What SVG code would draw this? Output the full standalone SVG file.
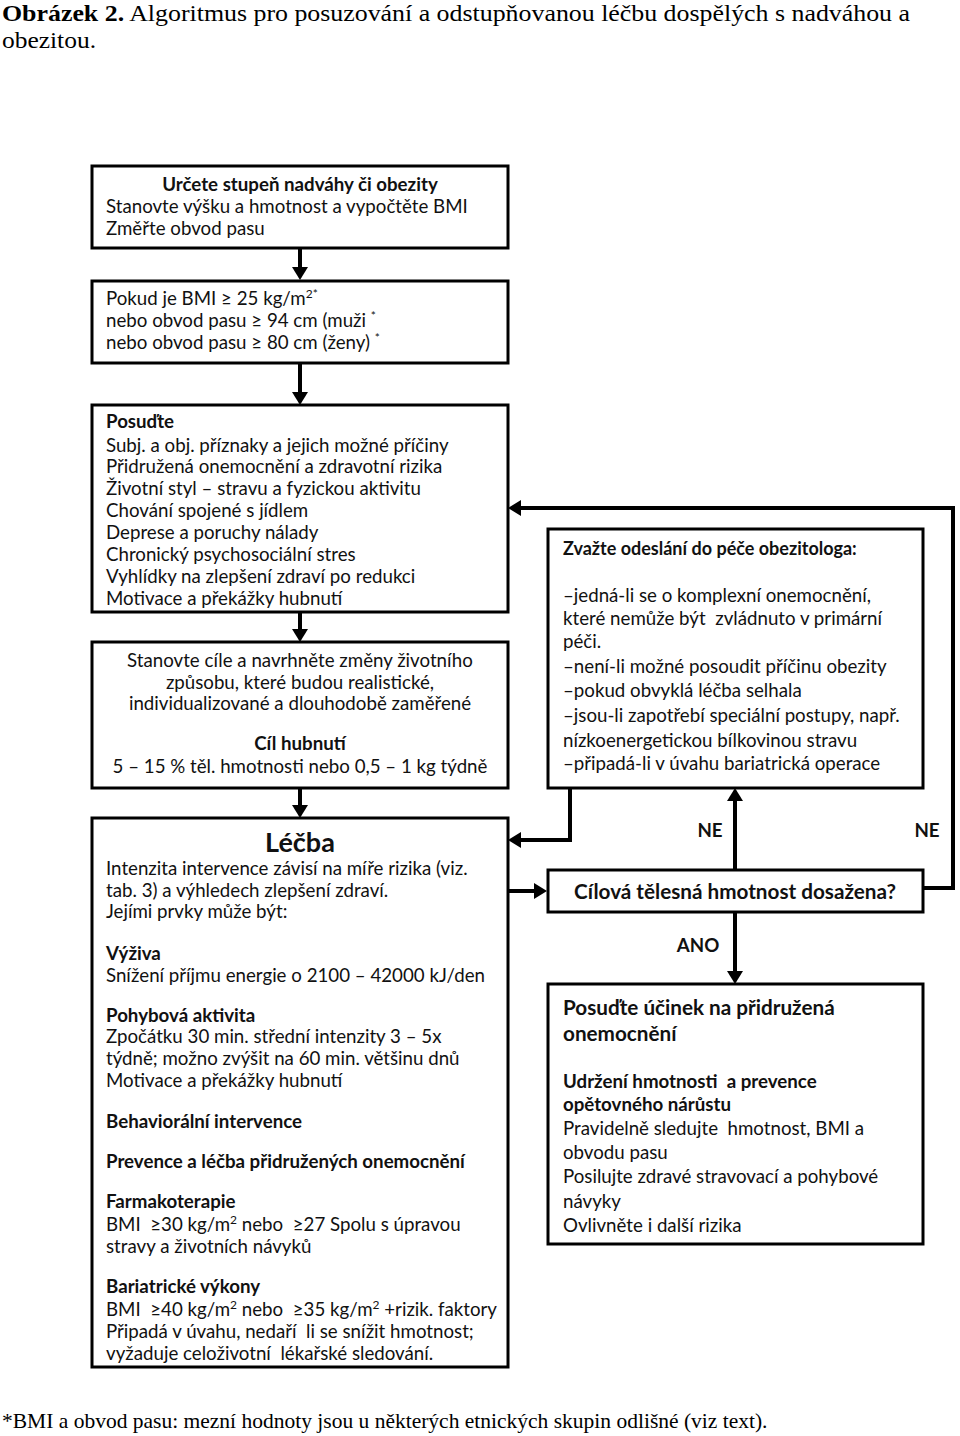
<svg xmlns="http://www.w3.org/2000/svg" width="960" height="1436" viewBox="0 0 960 1436">
<style>
.box{fill:#fff;stroke:#000;stroke-width:3}
.t{font-family:Lato,"Liberation Sans",sans-serif;font-size:18.7px;fill:#111}
.b{font-weight:bold}
.c{text-anchor:middle}
.big{font-size:20.7px}
.lab{font-size:18.7px}
.ser{font-family:"Liberation Serif","Times New Roman",serif;font-size:24px;fill:#000}
.foot{font-size:21.5px}
.con{fill:none;stroke:#000;stroke-width:4}
</style>
<defs>
<marker id="ah" viewBox="0 0 13 16" refX="2" refY="8" markerWidth="13" markerHeight="16" markerUnits="userSpaceOnUse" orient="auto">
<path d="M0,0 L13,8 L0,16 z" fill="#000"/>
</marker>
</defs>
<rect width="960" height="1436" fill="#fff"/>
<g id="title">
<text class="ser" x="2" y="21" textLength="908" lengthAdjust="spacingAndGlyphs"><tspan font-weight="bold">Obrázek 2.</tspan> Algoritmus pro posuzování a odstupňovanou léčbu dospělých s nadváhou a</text>
<text class="ser" x="2" y="48" textLength="94" lengthAdjust="spacingAndGlyphs">obezitou.</text>
</g>
<g id="connectors">
<path class="con" d="M300,249 V269" marker-end="url(#ah)"/>
<path class="con" d="M300,363 V394" marker-end="url(#ah)"/>
<path class="con" d="M300,612 V631" marker-end="url(#ah)"/>
<path class="con" d="M300,788 V807" marker-end="url(#ah)"/>
<path class="con" d="M570,788 V840 H519" marker-end="url(#ah)"/>
<path class="con" d="M508,891 H536" marker-end="url(#ah)"/>
<path class="con" d="M735,870 V799" marker-end="url(#ah)"/>
<path class="con" d="M923,888 H953 V508 H519" marker-end="url(#ah)"/>
<path class="con" d="M735,912 V973" marker-end="url(#ah)"/>
</g>
<g id="n1">
<rect class="box" x="92" y="166" width="416" height="82"/>
<text class="t b c" x="300" y="191">Určete stupeň nadváhy či obezity</text>
<text class="t" x="106" y="213">Stanovte výšku a hmotnost a vypočtěte BMI</text>
<text class="t" x="106" y="235">Změřte obvod pasu</text>
</g>
<g id="n2">
<rect class="box" x="92" y="281" width="416" height="82"/>
<text class="t" x="106" y="305">Pokud je BMI ≥ 25 kg/m<tspan font-size="12" dy="-7">2*</tspan></text>
<text class="t" x="106" y="327">nebo obvod pasu ≥ 94 cm (muži <tspan font-size="12" dy="-7">*</tspan></text>
<text class="t" x="106" y="349">nebo obvod pasu ≥ 80 cm (ženy) <tspan font-size="12" dy="-7">*</tspan></text>
</g>
<g id="n3">
<rect class="box" x="92" y="405" width="416" height="207"/>
<text class="t b" x="106" y="428">Posuďte</text>
<text class="t" x="106" y="452">Subj. a obj. příznaky a jejich možné příčiny</text>
<text class="t" x="106" y="473">Přidružená onemocnění a zdravotní rizika</text>
<text class="t" x="106" y="495">Životní styl – stravu a fyzickou aktivitu</text>
<text class="t" x="106" y="517">Chování spojené s jídlem</text>
<text class="t" x="106" y="539">Deprese a poruchy nálady</text>
<text class="t" x="106" y="561">Chronický psychosociální stres</text>
<text class="t" x="106" y="583">Vyhlídky na zlepšení zdraví po redukci</text>
<text class="t" x="106" y="605">Motivace a překážky hubnutí</text>
</g>
<g id="n4">
<rect class="box" x="92" y="642" width="416" height="146"/>
<text class="t c" x="300" y="667">Stanovte cíle a navrhněte změny životního</text>
<text class="t c" x="300" y="689">způsobu, které budou realistické,</text>
<text class="t c" x="300" y="710">individualizované a dlouhodobě zaměřené</text>
<text class="t b c" x="300" y="750">Cíl hubnutí</text>
<text class="t c" x="300" y="773">5 – 15 % těl. hmotnosti nebo 0,5 – 1 kg týdně</text>
</g>
<g id="n5">
<rect class="box" x="92" y="818" width="416" height="549"/>
<text class="t b c" x="300" y="852" style="font-size:27px">Léčba</text>
<text class="t" x="106" y="875">Intenzita intervence závisí na míře rizika (viz.</text>
<text class="t" x="106" y="897">tab. 3) a výhledech zlepšení zdraví.</text>
<text class="t" x="106" y="918">Jejími prvky může být:</text>
<text class="t b" x="106" y="960">Výživa</text>
<text class="t" x="106" y="982">Snížení příjmu energie o 2100 – 42000 kJ/den</text>
<text class="t b" x="106" y="1022">Pohybová aktivita</text>
<text class="t" x="106" y="1043">Zpočátku 30 min. střední intenzity 3 – 5x</text>
<text class="t" x="106" y="1065">týdně; možno zvýšit na 60 min. většinu dnů</text>
<text class="t" x="106" y="1087">Motivace a překážky hubnutí</text>
<text class="t b" x="106" y="1128">Behaviorální intervence</text>
<text class="t b" x="106" y="1168">Prevence a léčba přidružených onemocnění</text>
<text class="t b" x="106" y="1208">Farmakoterapie</text>
<text class="t" x="106" y="1231" xml:space="preserve">BMI  ≥30 kg/m<tspan font-size="12" dy="-7">2</tspan><tspan dy="7"> nebo  ≥27 Spolu s úpravou</tspan></text>
<text class="t" x="106" y="1253">stravy a životních návyků</text>
<text class="t b" x="106" y="1293">Bariatrické výkony</text>
<text class="t" x="106" y="1316" xml:space="preserve">BMI  ≥40 kg/m<tspan font-size="12" dy="-7">2</tspan><tspan dy="7"> nebo  ≥35 kg/m</tspan><tspan font-size="12" dy="-7">2</tspan><tspan dy="7"> +rizik. faktory</tspan></text>
<text class="t" x="106" y="1338" xml:space="preserve">Připadá v úvahu, nedaří  li se snížit hmotnost;</text>
<text class="t" x="106" y="1360" xml:space="preserve">vyžaduje celoživotní  lékařské sledování.</text>
</g>
<g id="n6">
<rect class="box" x="548" y="529" width="375" height="259"/>
<text class="t b" x="563" y="555" style="font-size:18px">Zvažte odeslání do péče obezitologa:</text>
<text class="t" x="563" y="602">–jedná-li se o komplexní onemocnění,</text>
<text class="t" x="563" y="625" xml:space="preserve">které nemůže být  zvládnuto v primární</text>
<text class="t" x="563" y="648">péči.</text>
<text class="t" x="563" y="673">–není-li možné posoudit příčinu obezity</text>
<text class="t" x="563" y="697">–pokud obvyklá léčba selhala</text>
<text class="t" x="563" y="722">–jsou-li zapotřebí speciální postupy, např.</text>
<text class="t" x="563" y="747">nízkoenergetickou bílkovinou stravu</text>
<text class="t" x="563" y="770">–připadá-li v úvahu bariatrická operace</text>
</g>
<g id="n7">
<rect class="box" x="548" y="870" width="375" height="42"/>
<text class="t b c big" x="735" y="899">Cílová tělesná hmotnost dosažena?</text>
</g>
<g id="n8">
<rect class="box" x="548" y="984" width="375" height="260"/>
<text class="t b big" x="563" y="1015">Posuďte účinek na přidružená</text>
<text class="t b big" x="563" y="1041">onemocnění</text>
<text class="t b" x="563" y="1088" xml:space="preserve">Udržení hmotnosti  a prevence</text>
<text class="t b" x="563" y="1111">opětovného nárůstu</text>
<text class="t" x="563" y="1135" xml:space="preserve">Pravidelně sledujte  hmotnost, BMI a</text>
<text class="t" x="563" y="1159">obvodu pasu</text>
<text class="t" x="563" y="1183">Posilujte zdravé stravovací a pohybové</text>
<text class="t" x="563" y="1208">návyky</text>
<text class="t" x="563" y="1232">Ovlivněte i další rizika</text>
</g>
<g id="labels">
<text class="t b c lab" x="710" y="837">NE</text>
<text class="t b c lab" x="927" y="837">NE</text>
<text class="t b c lab" x="698" y="952">ANO</text>
</g>
<g id="footer">
<text class="ser foot" x="2" y="1428">*BMI a obvod pasu: mezní hodnoty jsou u některých etnických skupin odlišné (viz text).</text>
</g>
</svg>
